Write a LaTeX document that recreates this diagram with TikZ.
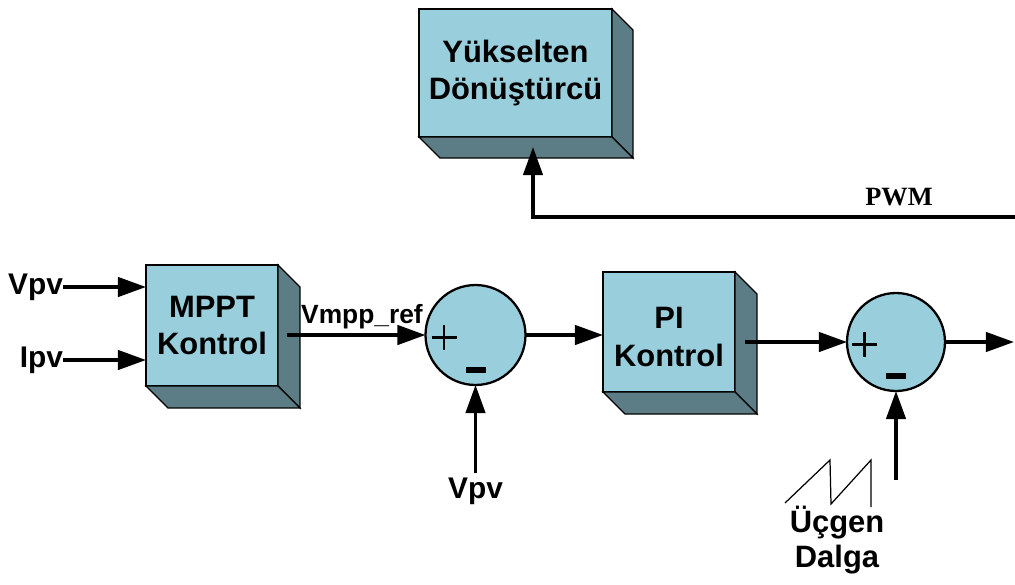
\documentclass[tikz,border=0pt]{standalone}
\usepackage{fontspec}
\setmainfont{Liberation Sans}
\newfontfamily\timesfont{Liberation Serif}
\usetikzlibrary{arrows.meta,calc}
\definecolor{facecol}{RGB}{153,207,220}
\definecolor{sidecol}{RGB}{92,125,133}
\newcommand\extrudebox[2]{%
 \filldraw[fill=sidecol,draw=black,line width=0.7pt] (#1.north east) -- ++(#2,#2) -- ($(#1.south east)+(#2,#2)$) -- (#1.south east) -- cycle;
 \filldraw[fill=sidecol,draw=black,line width=0.7pt] (#1.south west) -- ++(#2,#2) -- ($(#1.south east)+(#2,#2)$) -- (#1.south east) -- cycle;}
\begin{document}
\begin{tikzpicture}[x=0.02cm,y=-0.02cm,
 blk/.style={draw=black,line width=0.7pt,fill=facecol,inner sep=0,outer sep=0,align=center,font=\fontsize{17.6}{21.5}\selectfont\bfseries},
 sumj/.style={circle,draw=black,line width=1.3pt,fill=facecol,inner sep=0,outer sep=0,minimum size=2cm},
 sig/.style={line width=2pt,-{Triangle[length=16pt,width=11pt]}},
 lbl/.style={inner sep=0,outer sep=0,font=\fontsize{17}{20}\selectfont\bfseries},
 pm/.style={line width=1.2pt}
]
\useasboundingbox (0,0) rectangle (1015,585);
% blocks
\node[blk,minimum width=3.86cm,minimum height=2.56cm] (boost) at (515.5,73) {Yükselten\\Dönüştürcü};
\extrudebox{boost}{21}
\node[blk,minimum width=2.64cm,minimum height=2.42cm] (mppt) at (212,325.5) {MPPT\\Kontrol};
\extrudebox{mppt}{22}
\node[blk,minimum width=2.64cm,minimum height=2.40cm] (pi) at (669,332) {\rule{0pt}{18pt}PI\\Kontrol};
\extrudebox{pi}{22}
% summing junctions
\node[sumj] (s1) at (475.5,335) {};
\node[sumj,minimum size=1.96cm] (s2) at (896,342) {};
\draw[pm] ($(s1)+(-44,2.5)$) -- ($(s1)+(-19,2.5)$) ($(s1)+(-31.5,-10)$) -- ($(s1)+(-31.5,15)$);
\fill ($(s1)+(-10,32)$) rectangle ($(s1)+(10,38)$);
\draw[pm] ($(s2)+(-44,2.5)$) -- ($(s2)+(-19,2.5)$) ($(s2)+(-31.5,-10)$) -- ($(s2)+(-31.5,15)$);
\fill ($(s2)+(-10,31)$) rectangle ($(s2)+(10,37)$);
% labels
\node[lbl,anchor=east] (vpvin) at (63,287) {Vpv};
\node[lbl,anchor=east] (ipvin) at (63,360) {Ipv};
\node[lbl,font=\fontsize{15}{18}\selectfont\bfseries,anchor=base] (vref) at (362,323) {Vmpp\_ref};
\node[lbl] (vpvfb) at (475.5,491) {Vpv};
\node[inner sep=0,font=\timesfont\fontsize{15}{18}\selectfont\bfseries,anchor=base] (pwm) at (899,205) {PWM};
\node[lbl,align=center,font=\fontsize{17.6}{19.8}\selectfont\bfseries,anchor=south] (tri) at (837,574) {Üçgen\\Dalga};
% sawtooth
\draw[line width=0.7pt] (785,503) -- (830,460) -- (831,504) -- (871,460) -- (871,507);
% connectors
\coordinate (out) at (1014,342);
\coordinate (trin) at (896,480);
\coordinate (pwmin) at (1016,217);
\coordinate (pwmtip) at (533,147);
\draw[sig] (vpvin.east) -- (mppt.west |- vpvin.east);
\draw[sig] (ipvin.east) -- (mppt.west |- ipvin.east);
\draw[sig] ($(mppt.east |- s1.west)+(9,0)$) -- (s1.west);
\draw[sig] (s1.east) -- (pi.west |- s1.east);
\draw[sig] ($(pi.east |- s2.west)+(10,0)$) -- (s2.west);
\draw[sig] (s2.east) -- (out);
\draw[sig,shorten <=2.8pt] (vpvfb.north -| s1.south) -- (s1.south);
\draw[sig] (trin) -- (s2.south);
\draw[sig] (pwmin) -| (pwmtip);
\end{tikzpicture}
\end{document}
